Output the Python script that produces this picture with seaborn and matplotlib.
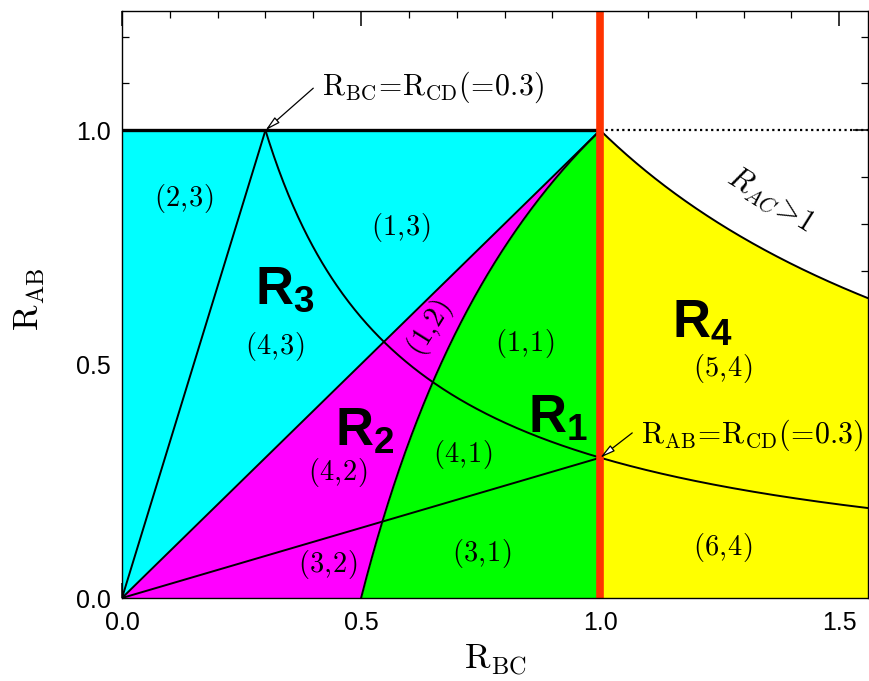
import numpy as np
import pandas as pd
import matplotlib
matplotlib.use("Agg")
import matplotlib.pyplot as plt
import seaborn as sns

# Fixed ratio and plotting window
R_CD = 0.3
R_BC_MAX = 1.56
R_AB_MAX = 1.255

# Region labels
region_codes = ["(2,3)", "(1,3)", "(4,3)", "(1,2)", "(1,1)", "(4,1)",
                "(4,2)", "(3,2)", "(3,1)", "(5,4)", "(6,4)"]
region_names = ["3", "2", "1", "4"]
x_ticks = [0.0, 0.5, 1.0, 1.5]
y_ticks = [0.0, 0.5, 1.0]

# layout of the labels (data coordinates)
code_pos = [(0.128, 0.855), (0.582, 0.793), (0.320, 0.537), (0.644, 0.577),
            (0.843, 0.545), (0.713, 0.306), (0.452, 0.269), (0.431, 0.071),
            (0.753, 0.096), (1.257, 0.491), (1.257, 0.107)]
code_rot = [0, 0, 0, 58, 0, 0, 0, 0, 0, 0, 0]
name_pos = [(0.278, 0.630), (0.446, 0.325), (0.849, 0.353), (1.151, 0.556)]

sns.set_style("ticks")
plt.rcParams["font.family"] = ["Liberation Sans", "DejaVu Sans"]
plt.rcParams["mathtext.fontset"] = "cm"
plt.rcParams["mathtext.bf"] = "Liberation Sans:bold"
for key in ["text.color", "axes.labelcolor", "xtick.color", "ytick.color",
            "axes.edgecolor"]:
    plt.rcParams[key] = "black"

fig = plt.figure(figsize=(8.7, 6.81), dpi=100)
ax = fig.add_axes([122 / 870, 1 - 598 / 681, (868 - 122) / 870, (598 - 11) / 681])

CYAN, MAGENTA, GREEN, YELLOW, RED = "#00ffff", "#ff00ff", "#00ff00", "#ffff00", "#ff3300"

# --- filled regions ---
xa = np.linspace(1e-6, 1.0, 600)
ax.fill_between(xa, xa, 1.0, color=CYAN, lw=0, zorder=1)
lower_m = np.clip(2.0 - 1.0 / xa, 0, None)
ax.fill_between(xa, lower_m, xa, color=MAGENTA, lw=0, zorder=1)
xg = np.linspace(0.5, 1.0, 400)
ax.fill_between(xg, 0, 2.0 - 1.0 / xg, color=GREEN, lw=0, zorder=1)
xy = np.linspace(1.0, R_BC_MAX, 400)
ax.fill_between(xy, 0, 1.0 / xy, color=YELLOW, lw=0, zorder=1)

# --- boundary curves ---
def curve(x, y, **kw):
    df = pd.DataFrame({"R_BC": x, "R_AB": y})
    sns.lineplot(data=df, x="R_BC", y="R_AB", ax=ax, sort=False,
                 estimator=None, legend=False, **kw)

lw = 1.4
curve(np.array([0, R_CD]), np.array([0, 1.0]), color="black", lw=lw, zorder=3)
curve(np.array([0, 1.0]), np.array([0, R_CD]), color="black", lw=lw, zorder=3)
curve(np.array([0, 1.0]), np.array([0, 1.0]), color="black", lw=lw, zorder=3)
curve(xg, 2.0 - 1.0 / xg, color="black", lw=lw, zorder=3)
xr = np.linspace(R_CD, R_BC_MAX, 500)
curve(xr, R_CD / xr, color="black", lw=lw, zorder=3)
curve(xy, 1.0 / xy, color="black", lw=lw, zorder=3)
curve(np.array([0, 1.0]), np.array([1.0, 1.0]), color="black", lw=2.4, zorder=3)
curve(np.array([1.0, R_BC_MAX]), np.array([1.0, 1.0]), color="black", lw=1.6,
      linestyle=(0, (1, 1.5)), zorder=3)
ax.axvline(1.0, color=RED, lw=5.5, zorder=4)

# --- labels ---
for txt, (x, y), r in zip(region_codes, code_pos, code_rot):
    ax.text(x, y, "$" + txt.replace(",", r"{,}\hspace{0.07}") + "$",
            fontsize=20.5, ha="center", va="center", rotation=r, zorder=5)
for n, (x, y) in zip(region_names, name_pos):
    ax.text(x, y, r"$\mathbf{R_" + n + "}$", fontsize=38, ha="left",
            va="baseline", math_fontfamily="custom", zorder=5)

arrow = dict(arrowstyle="-|>,head_length=0.9,head_width=0.22", fc="white",
             ec="black", lw=0.9, shrinkA=0, shrinkB=0)
ax.annotate("", xy=(R_CD, 1.0), xytext=(0.40, 1.09), arrowprops=arrow, zorder=6)
ax.text(0.418, 1.092, r"$\mathrm{R_{BC}\!=\!R_{CD}(\!=\!0.3)}$", fontsize=21.5,
        ha="left", va="center", zorder=6)
ax.annotate("", xy=(1.0, R_CD), xytext=(1.067, 0.353), arrowprops=arrow, zorder=6)
ax.text(1.086, 0.348, r"$\mathrm{R_{AB}\!=\!R_{CD}(\!=\!0.3)}$", fontsize=21.5,
        ha="left", va="center", zorder=6)
ax.text(1.356, 0.850, r"$R_{AC}\!>\!1$", fontsize=22, ha="center", va="center",
        rotation=-32, zorder=6)

# --- axes ---
ax.set_xlim(0, R_BC_MAX)
ax.set_ylim(0, R_AB_MAX)
ax.set_xticks(x_ticks)
ax.set_yticks(y_ticks)
ax.set_xticks(np.round(np.arange(0, 1.56, 0.1), 2), minor=True)
ax.set_yticks(np.round(np.arange(0, 1.26, 0.1), 2), minor=True)
ax.set_xticklabels([f"{v:.1f}" for v in x_ticks])
ax.set_yticklabels([f"{v:.1f}" for v in y_ticks])
ax.tick_params(which="both", direction="in", top=True, right=True, colors="black",
               labelsize=18)
ax.tick_params(which="major", length=11, width=1.1)
ax.tick_params(which="minor", length=5, width=0.9)
ax.tick_params(axis="x", which="major", pad=9)
ax.tick_params(axis="y", which="major", pad=8)
for s in ax.spines.values():
    s.set_color("black")
    s.set_linewidth(1.0)
    s.set_zorder(7)

ax.set_xlabel(r"$\mathrm{R_{BC}}$", fontsize=25, va="center")
ax.xaxis.set_label_coords(0.5, -0.107)
ax.set_ylabel(r"$\mathrm{R_{AB}}$", fontsize=25, va="center", ha="center")
ax.yaxis.set_label_coords(-0.124, 0.508)

fig.savefig("out.png", dpi=100)
